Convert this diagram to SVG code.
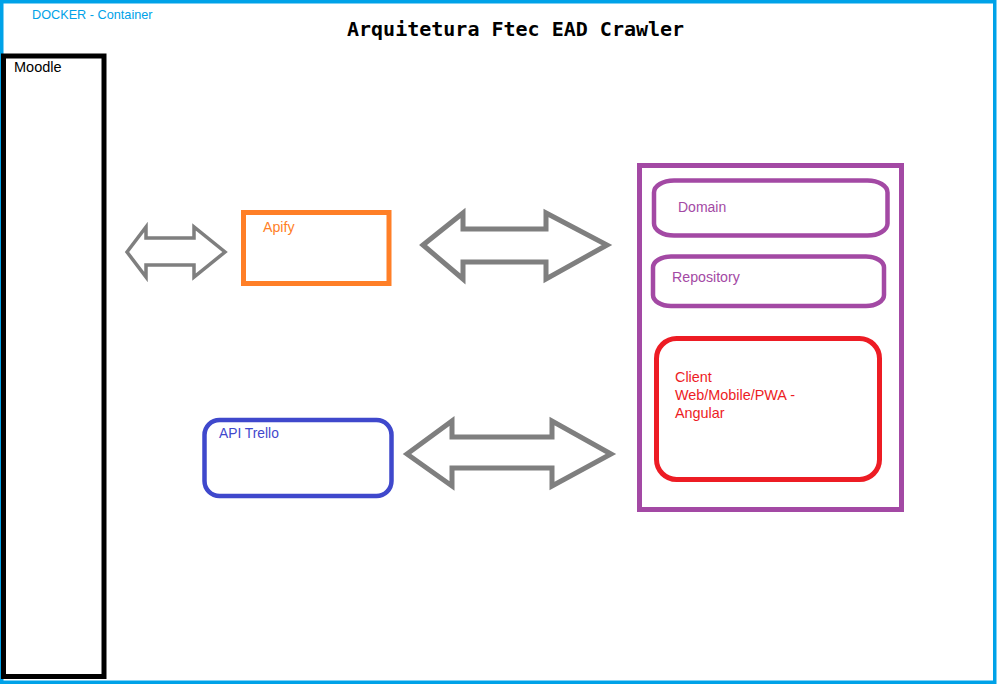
<svg xmlns="http://www.w3.org/2000/svg" width="998" height="684" viewBox="0 0 998 684">
<style>
.lbl{font-family:"Liberation Sans","Open Sans",Arial,sans-serif}
.title{font-family:"DejaVu Sans Mono","Liberation Mono",monospace;font-weight:bold;font-size:20px}
.arrow{fill:none;stroke:#7f7f7f;stroke-linejoin:miter}
</style>
<rect x="0" y="0" width="998" height="684" fill="#ffffff"/>
<g id="docker">
<rect x="1.75" y="1.75" width="993" height="680.5" fill="none" stroke="#00a2e8" stroke-width="3.5"/>
<text class="lbl" x="32" y="19" fill="#00a2e8" font-size="12.7">DOCKER - Container</text>
</g>
<text class="title" x="347" y="36" fill="#000">Arquitetura Ftec EAD Crawler</text>
<g id="moodle">
<rect x="3.5" y="56" width="100.5" height="620.5" fill="none" stroke="#000" stroke-width="5"/>
<text class="lbl" x="14" y="71.5" fill="#000" font-size="14.5">Moodle</text>
</g>
<g id="apify">
<rect x="243.5" y="212.5" width="145.5" height="71" fill="none" stroke="#ff7f27" stroke-width="5"/>
<text class="lbl" x="263" y="231.5" fill="#ff7f27" font-size="14.2">Apify</text>
</g>
<g id="api-trello">
<rect x="204.5" y="420" width="187" height="76" rx="15" fill="none" stroke="#3f48cc" stroke-width="4.5"/>
<text class="lbl" x="219" y="437.5" fill="#3f48cc" font-size="13.8">API Trello</text>
</g>
<g id="backend">
<rect x="639.5" y="165.5" width="262" height="344" fill="none" stroke="#a349a4" stroke-width="5"/>
</g>
<g id="domain">
<rect x="654" y="180.5" width="233.5" height="55" rx="20" ry="12" fill="none" stroke="#a349a4" stroke-width="4.5"/>
<text class="lbl" x="678" y="211.5" fill="#a349a4" font-size="14">Domain</text>
</g>
<g id="repository">
<rect x="653" y="256.5" width="231" height="49.5" rx="18" ry="11" fill="none" stroke="#a349a4" stroke-width="4.5"/>
<text class="lbl" x="672" y="281.5" fill="#a349a4" font-size="14.2">Repository</text>
</g>
<g id="client">
<rect x="656.5" y="338.5" width="223" height="141" rx="20" fill="none" stroke="#ed1c24" stroke-width="5"/>
<text class="lbl" fill="#ed1c24" font-size="14.4"><tspan x="675" y="381.5">Client</tspan><tspan x="675" y="399.5">Web/Mobile/PWA -</tspan><tspan x="675" y="417.5">Angular</tspan></text>
</g>
<g id="connectors">
<polygon class="arrow" stroke-width="3.5" points="127,252 146,227 146,238 194,238 194,227 225,252 194,277 194,265 146,265 146,277"/>
<polygon class="arrow" stroke-width="5" points="423,245 463,213 463,229 546,229 546,213 607,245 546,279 546,262 463,262 463,279"/>
<polygon class="arrow" stroke-width="5" points="407,454 452,421 452,437 552,437 552,421 611,454 552,486 552,468 452,468 452,486"/>
</g>
</svg>
